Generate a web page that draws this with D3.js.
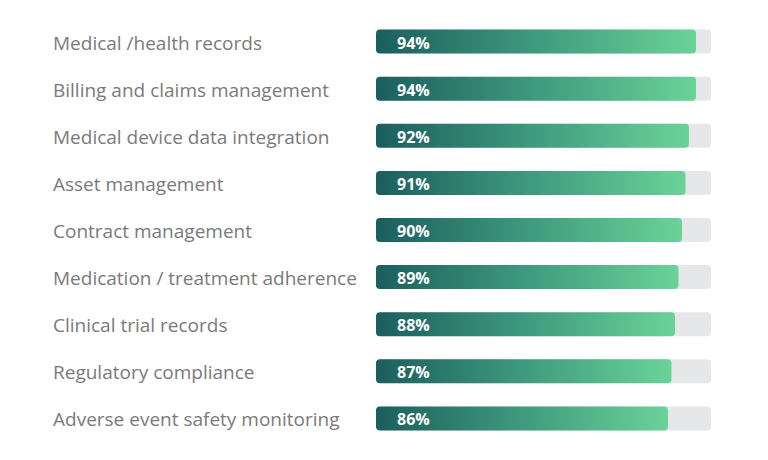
<!DOCTYPE html>
<html><head><meta charset="utf-8">
<script src="https://cdn.jsdelivr.net/npm/d3@7"></script>
<style>body{margin:0;background:#fff}svg{display:block}</style>
</head><body>
<script>
const categories = ["Medical /health records","Billing and claims management","Medical device data integration","Asset management","Contract management","Medication / treatment adherence","Clinical trial records","Regulatory compliance","Adverse event safety monitoring"];
const values = [94,94,92,91,90,89,88,87,86];
const valueLabels = ["94%","94%","92%","91%","90%","89%","88%","87%","86%"];

const W=768,H=460;
const svg=d3.select("body").append("svg").attr("width",W).attr("height",H);
const defs=svg.append("defs");
const grad=defs.append("linearGradient").attr("id","g").attr("x1","0").attr("x2","1").attr("y1","0").attr("y2","0");
grad.append("stop").attr("offset","0%").attr("stop-color","#1b5e5d");
grad.append("stop").attr("offset","50%").attr("stop-color","#3f9a7e");
grad.append("stop").attr("offset","100%").attr("stop-color","#6ad398");

const trackX0=376, trackX1=711;
const x=d3.scaleLinear().domain([0,100]).range([367,717]);
const y=d3.scaleBand().domain(categories).range([18,442]).paddingInner(0.49).paddingOuter(0.245);
const bh=24;

const rows=svg.selectAll("g.row").data(categories).join("g").attr("class","row")
  .attr("transform",d=>`translate(0,${y(d)+y.bandwidth()/2})`);
rows.append("text").attr("x",53).attr("y",1).attr("dominant-baseline","central")
  .attr("font-family","'Open Sans'").attr("font-size",19).attr("fill","#7a7a7a").text(d=>d);
rows.append("rect").attr("x",trackX0).attr("y",-bh/2).attr("width",trackX1-trackX0).attr("height",bh)
  .attr("rx",4).attr("fill","#e6e7e8");
rows.append("rect").attr("x",trackX0).attr("y",-bh/2).attr("width",(d,i)=>x(values[i])-trackX0).attr("height",bh)
  .attr("rx",4).attr("fill","url(#g)");
rows.append("text").attr("x",397).attr("y",1).attr("dominant-baseline","central")
  .attr("font-family","'Open Sans'").attr("font-weight","bold").attr("font-size",16).attr("fill","#fff")
  .text((d,i)=>valueLabels[i]);
</script>
</body></html>
